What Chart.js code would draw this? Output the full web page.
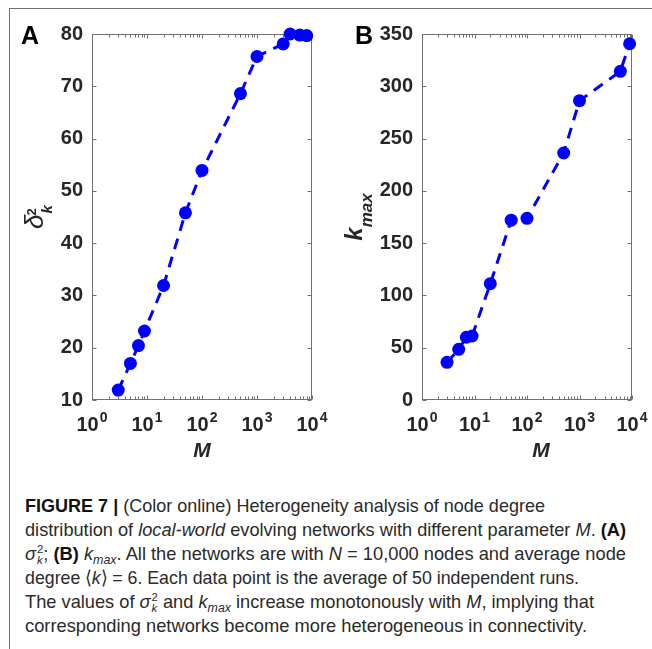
<!DOCTYPE html>
<html><head><meta charset="utf-8">
<script src="https://cdn.jsdelivr.net/npm/chart.js@4"></script>
<style>
html,body{margin:0;padding:0;background:#fff;}
body{width:652px;height:649px;position:relative;overflow:hidden;font-family:'Liberation Sans',Arial,Helvetica,sans-serif;}
#frameTop{position:absolute;left:9px;top:8px;width:643px;height:1px;background:#707070;}
#frameLeft{position:absolute;left:9px;top:8px;width:1px;height:641px;background:#707070;}
.wrap{position:absolute;top:0;}
.cap{position:absolute;left:25px;white-space:nowrap;font-size:19px;line-height:24px;color:#2a2a2a;transform-origin:0 0;}
.cap b{font-weight:bold;color:#111;}
.st{display:inline-block;vertical-align:-0.38em;font-size:0.62em;line-height:0.95em;text-align:left;margin-left:1px;}
.st span{display:block;}
.st .k{font-style:italic;}
.sb{font-size:0.68em;font-style:italic;vertical-align:-0.3em;line-height:0;}
</style></head><body>
<div id="frameTop"></div><div id="frameLeft"></div>
<div class="wrap" style="left:0;width:330px;height:470px;"><canvas id="cA" width="330" height="470"></canvas></div>
<div class="wrap" style="left:330px;width:322px;height:470px;"><canvas id="cB" width="322" height="470"></canvas></div>

<div class="cap" data-w="520" style="top:494px;"><b>FIGURE 7 |</b> (Color online) Heterogeneity analysis of node degree</div>
<div class="cap" data-w="601" style="top:518px;">distribution of <i>local-world</i> evolving networks with different parameter <i>M</i>. <b>(A)</b></div>
<div class="cap" data-w="601" style="top:542px;"><i>σ</i><span class="st"><span>2</span><span class="k">k</span></span>; <b>(B)</b> <i>k</i><span class="sb">max</span>. All the networks are with <i>N</i> = 10,000 nodes and average node</div>
<div class="cap" data-w="554" style="top:566px;">degree ⟨<i>k</i>⟩ = 6. Each data point is the average of 50 independent runs.</div>
<div class="cap" data-w="569" style="top:590px;">The values of <i>σ</i><span class="st"><span>2</span><span class="k">k</span></span> and <i>k</i><span class="sb">max</span> increase monotonously with <i>M</i>, implying that</div>
<div class="cap" data-w="562" style="top:614px;">corresponding networks become more heterogeneous in connectivity.</div>

<script>
// ---- data ----
const mA = [3, 5, 7, 9, 20, 50, 100, 500, 1000, 3000, 4000, 6000, 8000];
const sigmaA = [11.9, 17.0, 20.4, 23.2, 31.9, 45.8, 53.9, 68.6, 75.7, 78.1, 80.0, 79.8, 79.7];
const mB = [3, 5, 7, 9, 20, 50, 100, 500, 1000, 6000, 9000];
const kmaxB = [36, 48.5, 60, 61.2, 111.2, 172, 173.7, 236.2, 286.2, 314.3, 340.7];
const xTickPowers = [0, 1, 2, 3, 4];
const yTicksA = [10, 20, 30, 40, 50, 60, 70, 80];
const yTicksB = [0, 50, 100, 150, 200, 250, 300, 350];

const FONT = "'Liberation Sans', Arial, Helvetica, sans-serif";
const BLUE = '#0000ff';
const AXIS = '#707070';
const TXT = '#262626';

function panelPlugin(cfg) {
  return {
    id: 'panel' + cfg.letter,
    beforeDatasetsDraw(chart) {
      const {ctx, chartArea: a, scales: {x, y}} = chart;
      ctx.save();
      ctx.strokeStyle = AXIS; ctx.lineWidth = 1;
      const L = Math.round(a.left) + 0.5, R = Math.round(a.right) - 0.5;
      const T = Math.round(a.top) + 0.5, B = Math.round(a.bottom) - 0.5;
      ctx.strokeRect(L, T, R - L, B - T);
      ctx.beginPath();
      for (const v of cfg.yTicks) {
        const py = Math.round(y.getPixelForValue(v)) + 0.5;
        ctx.moveTo(L, py); ctx.lineTo(L + 4, py);
        ctx.moveTo(R, py); ctx.lineTo(R - 4, py);
      }
      const pMax = xTickPowers[xTickPowers.length - 1];
      for (const p of xTickPowers) {
        for (let m = 1; m <= 9; m++) {
          if (p === pMax && m > 1) break;
          const px = Math.round(x.getPixelForValue(m * Math.pow(10, p))) + 0.5;
          const len = m === 1 ? 4 : 3;
          ctx.moveTo(px, B); ctx.lineTo(px, B - len);
          ctx.moveTo(px, T); ctx.lineTo(px, T + len);
        }
      }
      ctx.stroke();
      ctx.restore();
    },
    afterDraw(chart) {
      const {ctx, chartArea: a, scales: {x}} = chart;
      ctx.save();
      ctx.fillStyle = TXT;
      ctx.textBaseline = 'alphabetic';
      // x tick labels 10^p
      for (const p of xTickPowers) {
        const px = x.getPixelForValue(Math.pow(10, p));
        ctx.font = 'bold 20px ' + FONT;
        const w1 = ctx.measureText('10').width;
        ctx.font = 'bold 14px ' + FONT;
        const w2 = ctx.measureText(String(p)).width;
        const x0 = px - (w1 + w2 + 1) / 2;
        ctx.font = 'bold 20px ' + FONT;
        ctx.textAlign = 'left';
        ctx.fillText('10', x0, 431);
        ctx.font = 'bold 14px ' + FONT;
        ctx.fillText(String(p), x0 + w1 + 1, 422);
      }
      // x title
      ctx.font = 'italic bold 21px ' + FONT;
      ctx.textAlign = 'center';
      ctx.fillText('M', (a.left + a.right) / 2 + cfg.mOffset, 457);
      // panel letter
      ctx.font = 'bold 25px ' + FONT;
      ctx.textAlign = 'left';
      ctx.fillStyle = '#000';
      ctx.fillText(cfg.letter, cfg.letterX, 44);
      ctx.fillStyle = TXT;
      // y title (rotated)
      const cy = (a.top + a.bottom) / 2;
      ctx.translate(cfg.yTitleX, cy);
      ctx.rotate(-Math.PI / 2);
      cfg.drawYTitle(ctx);
      ctx.restore();
    }
  };
}

function drawSigma(ctx) {
  ctx.textAlign = 'left';
  ctx.font = 'italic 26px ' + FONT;
  const wd = ctx.measureText('δ').width;
  ctx.font = 'bold 13px ' + FONT;
  const w2 = ctx.measureText('2').width;
  ctx.font = 'italic bold 15px ' + FONT;
  const wk = ctx.measureText('k').width;
  const tot = wd + Math.max(w2, wk) + 1;
  const x0 = -tot / 2;
  ctx.font = 'italic 26px ' + FONT;
  ctx.fillText('δ', x0, 0);
  ctx.font = 'bold 13px ' + FONT;
  ctx.fillText('2', x0 + wd - 1, -7);
  ctx.font = 'italic bold 15px ' + FONT;
  ctx.fillText('k', x0 + wd + 1, 9);
}
function drawKmax(ctx) {
  ctx.textAlign = 'left';
  ctx.font = 'italic bold 24px ' + FONT;
  const wk = ctx.measureText('k').width;
  ctx.font = 'italic bold 17px ' + FONT;
  const wm = ctx.measureText('max').width;
  const x0 = -(wk + wm) / 2;
  ctx.font = 'italic bold 24px ' + FONT;
  ctx.fillText('k', x0, 0);
  ctx.font = 'italic bold 17px ' + FONT;
  ctx.fillText('max', x0 + wk, 10);
}

function makeChart(id, xs, ys, yTicks, pad, plugin) {
  const pts = xs.map((v, i) => ({x: v, y: ys[i]}));
  return new Chart(document.getElementById(id), {
    type: 'line',
    data: {datasets: [{
      data: pts,
      borderColor: BLUE, borderWidth: 3, borderDash: [11, 8],
      pointRadius: 6.5, pointBackgroundColor: BLUE, pointBorderWidth: 0,
      pointHoverRadius: 6.5, tension: 0, fill: false, clip: false
    }]},
    options: {
      responsive: false, animation: false, devicePixelRatio: 1,
      layout: {padding: pad},
      plugins: {legend: {display: false}, tooltip: {enabled: false}},
      events: [],
      scales: {
        x: {
          type: 'logarithmic',
          min: Math.pow(10, xTickPowers[0]), max: Math.pow(10, xTickPowers[xTickPowers.length - 1]),
          grid: {display: false, drawTicks: false}, border: {display: false},
          ticks: {display: false},
          afterFit(s) { s.height = 70; s.paddingLeft = 0; s.paddingRight = 0; }
        },
        y: {
          min: yTicks[0], max: yTicks[yTicks.length - 1],
          grid: {display: false, drawTicks: false}, border: {display: false},
          afterBuildTicks(s) { s.ticks = yTicks.map(v => ({value: v})); },
          ticks: {padding: 9, color: TXT, font: {family: FONT, size: 20, weight: 'bold'}},
          afterFit(s) { s.width = 92; s.paddingTop = 0; s.paddingBottom = 0; }
        }
      }
    },
    plugins: [plugin]
  });
}

makeChart('cA', mA, sigmaA, yTicksA, {left: 0, top: 34, right: 18, bottom: 0},
  panelPlugin({letter: 'A', letterX: 21, yTicks: yTicksA, mOffset: 0, yTitleX: 43, drawYTitle: drawSigma}));
makeChart('cB', mB, kmaxB, yTicksB, {left: 0, top: 34, right: 20, bottom: 0},
  panelPlugin({letter: 'B', letterX: 25, yTicks: yTicksB, mOffset: 14, yTitleX: 32, drawYTitle: drawKmax}));

document.querySelectorAll('.cap').forEach(el => {
  const target = +el.dataset.w;
  const w = el.getBoundingClientRect().width;
  if (w > 0) el.style.transform = 'scaleX(' + (target / w) + ')';
});
</script>
</body></html>
